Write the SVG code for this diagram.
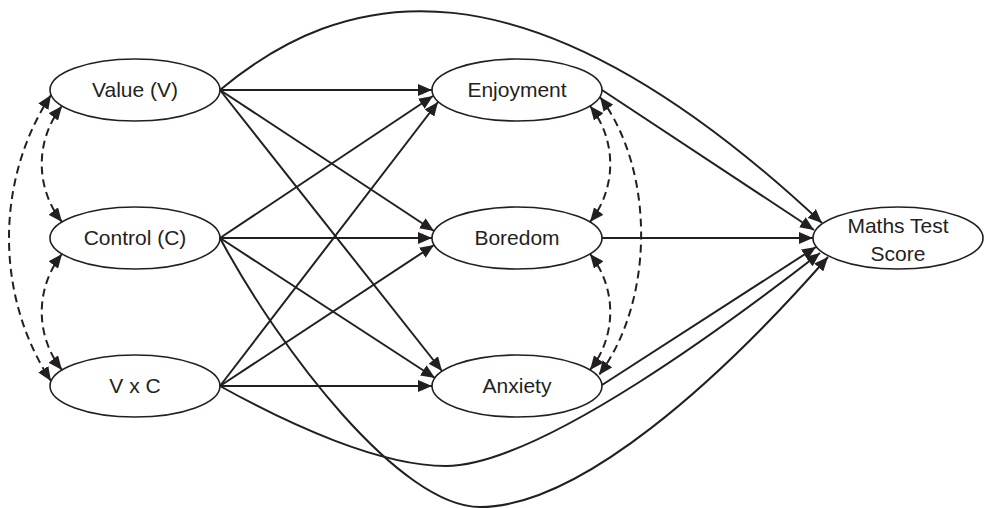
<svg xmlns="http://www.w3.org/2000/svg" width="984" height="508" viewBox="0 0 984 508">
  <style>
    .node ellipse { fill: #ffffff; stroke: #231f20; stroke-width: 1.6; }
    .node text { font-family: "Liberation Sans", Arial, sans-serif; font-size: 21px; fill: #231f20; text-anchor: middle; }
    .edge { fill: none; stroke: #231f20; stroke-width: 2; marker-end: url(#arr); }
    .cov { fill: none; stroke: #231f20; stroke-width: 2; stroke-dasharray: 8 5; marker-start: url(#arr); marker-end: url(#arr); }
  </style>
  <defs>
    <marker id="arr" markerUnits="userSpaceOnUse" markerWidth="15" markerHeight="12" refX="14" refY="6" orient="auto-start-reverse">
      <path d="M0,0 L14,6 L0,12 z" fill="#231f20"/>
    </marker>
  </defs>

  <rect width="984" height="508" fill="#ffffff"/>

  <g id="value" class="node">
    <ellipse cx="135" cy="90" rx="85" ry="31"/>
    <text x="135" y="97">Value (V)</text>
  </g>
  <g id="control" class="node">
    <ellipse cx="135" cy="238" rx="85" ry="31"/>
    <text x="135" y="245">Control (C)</text>
  </g>
  <g id="vxc" class="node">
    <ellipse cx="135" cy="386" rx="85" ry="31"/>
    <text x="135" y="393">V x C</text>
  </g>
  <g id="enjoyment" class="node">
    <ellipse cx="517" cy="90" rx="85" ry="31"/>
    <text x="517" y="97">Enjoyment</text>
  </g>
  <g id="boredom" class="node">
    <ellipse cx="517" cy="238" rx="85" ry="31"/>
    <text x="517" y="245">Boredom</text>
  </g>
  <g id="anxiety" class="node">
    <ellipse cx="517" cy="386" rx="85" ry="31"/>
    <text x="517" y="393">Anxiety</text>
  </g>
  <g id="maths" class="node">
    <ellipse cx="898" cy="238" rx="85" ry="31"/>
    <text x="898" y="233">Maths Test</text>
    <text x="898" y="261">Score</text>
  </g>

  <g id="connectors">
    <!-- Value (V) -->
    <path class="edge" d="M220,90 L432,90"/>
    <path class="edge" d="M220,90 L434,231"/>
    <path class="edge" d="M220,90 L442,371"/>
    <path class="edge" d="M220,90 C340,-10 520,-60 822,223"/>
    <!-- Control (C) -->
    <path class="edge" d="M220,238 L433,96"/>
    <path class="edge" d="M220,238 L432,238"/>
    <path class="edge" d="M220,238 L435,378"/>
    <path class="edge" d="M220,238 C280,350 400,507 480,507 C580,507 720,380 828,257"/>
    <!-- V x C -->
    <path class="edge" d="M220,386 L438,102"/>
    <path class="edge" d="M220,386 L434,245"/>
    <path class="edge" d="M220,386 L432,386"/>
    <path class="edge" d="M220,386 C290,425 380,466 446,466 C540,466 740,315 820,253"/>
    <!-- emotions to score -->
    <path class="edge" d="M602,90 L814,230"/>
    <path class="edge" d="M602,238 L813,238"/>
    <path class="edge" d="M602,385 L816,247"/>
    <!-- covariances left -->
    <path class="cov" d="M62,106 C35,140 35,188 62,222"/>
    <path class="cov" d="M62,254 C35,288 35,336 62,370"/>
    <path class="cov" d="M51,95 C-5,180 -5,296 51,381"/>
    <!-- covariances right -->
    <path class="cov" d="M590,106 C617,140 617,188 590,222"/>
    <path class="cov" d="M590,254 C617,288 617,336 590,370"/>
    <path class="cov" d="M600,97 C655,170 655,300 599,375"/>
  </g>
</svg>
